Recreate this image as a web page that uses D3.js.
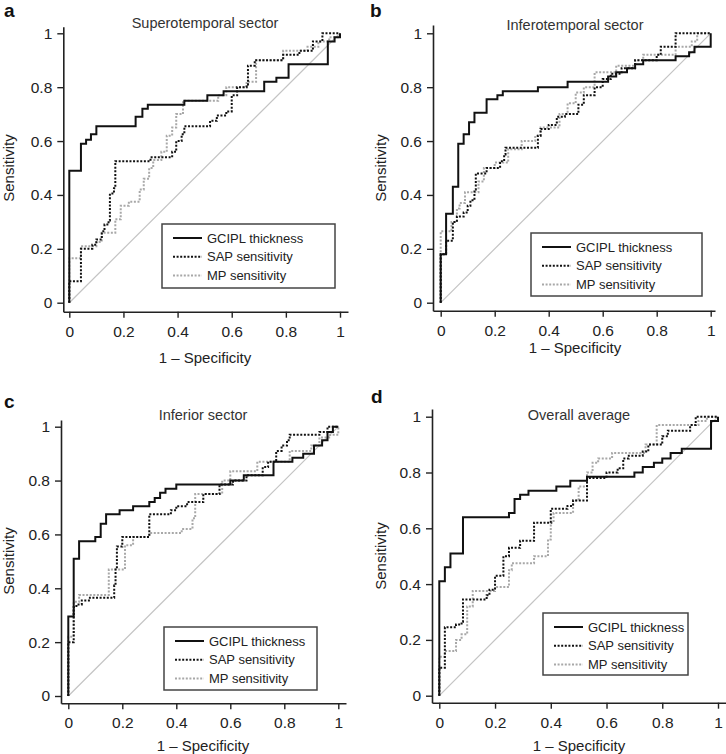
<!DOCTYPE html>
<html><head><meta charset="utf-8">
<script src="https://cdn.jsdelivr.net/npm/d3@7"></script>
<style>
html,body{margin:0;padding:0;background:#fff;}
svg{display:block;font-family:"Liberation Sans",Arial,Helvetica,sans-serif;}
</style></head>
<body>
<svg id="chart" width="726" height="754"></svg>
<script>
// ---- data ----
const panelLetters = ["a", "b", "c", "d"];
const panelTitles = ["Superotemporal sector", "Inferotemporal sector", "Inferior sector", "Overall average"];
const seriesNames = ["GCIPL thickness", "SAP sensitivity", "MP sensitivity"];
const tickValues = [0, 0.2, 0.4, 0.6, 0.8, 1];
const tickLabels = ["0", "0.2", "0.4", "0.6", "0.8", "1"];
const xLabel = "1 \u2013 Specificity";
const yLabel = "Sensitivity";

// ROC points [1 - specificity, sensitivity]
const superoGCIPL = [[0,0],[0,0.49],[0.043,0.59],[0.062,0.605],[0.08,0.625],[0.10,0.655],[0.245,0.69],[0.27,0.72],[0.29,0.735],[0.425,0.75],[0.51,0.77],[0.57,0.785],[0.72,0.82],[0.765,0.835],[0.81,0.885],[0.955,0.97],[0.98,0.985],[1,1]];
const superoSAP = [[0,0],[0,0.08],[0.043,0.2],[0.085,0.215],[0.1,0.235],[0.12,0.265],[0.13,0.29],[0.145,0.305],[0.15,0.405],[0.165,0.425],[0.17,0.525],[0.3,0.54],[0.38,0.56],[0.395,0.6],[0.415,0.625],[0.425,0.655],[0.52,0.675],[0.545,0.695],[0.58,0.71],[0.6,0.77],[0.62,0.8],[0.655,0.81],[0.66,0.88],[0.685,0.9],[0.79,0.92],[0.85,0.935],[0.9,0.97],[0.935,1],[1,1]];
const superoMP = [[0,0],[0,0.165],[0.043,0.21],[0.1,0.225],[0.12,0.26],[0.17,0.31],[0.19,0.36],[0.22,0.375],[0.26,0.42],[0.275,0.46],[0.295,0.5],[0.31,0.53],[0.34,0.56],[0.36,0.62],[0.38,0.65],[0.395,0.7],[0.42,0.75],[0.55,0.77],[0.58,0.8],[0.655,0.82],[0.69,0.9],[0.79,0.935],[0.88,0.95],[0.92,0.97],[0.96,0.985],[1,1]];

const inferoGCIPL = [[0,0],[0,0.18],[0.02,0.33],[0.045,0.43],[0.065,0.59],[0.085,0.625],[0.105,0.67],[0.125,0.705],[0.17,0.755],[0.21,0.77],[0.23,0.785],[0.36,0.8],[0.47,0.82],[0.62,0.84],[0.65,0.855],[0.69,0.87],[0.72,0.885],[0.75,0.9],[0.87,0.915],[0.92,0.93],[0.94,0.95],[1,1]];
const inferoSAP = [[0,0],[0,0.18],[0.02,0.23],[0.045,0.3],[0.06,0.32],[0.085,0.335],[0.1,0.36],[0.11,0.38],[0.125,0.42],[0.13,0.48],[0.17,0.5],[0.22,0.525],[0.235,0.55],[0.24,0.575],[0.36,0.62],[0.37,0.645],[0.4,0.66],[0.43,0.69],[0.46,0.7],[0.51,0.735],[0.53,0.77],[0.57,0.8],[0.6,0.83],[0.63,0.85],[0.67,0.87],[0.72,0.9],[0.8,0.92],[0.815,0.95],[0.87,1],[1,1]];
const inferoMP = [[0,0],[0,0.265],[0.04,0.3],[0.06,0.35],[0.07,0.37],[0.09,0.41],[0.14,0.45],[0.16,0.5],[0.2,0.52],[0.25,0.57],[0.3,0.6],[0.35,0.62],[0.37,0.65],[0.44,0.7],[0.47,0.74],[0.5,0.78],[0.53,0.8],[0.57,0.855],[0.65,0.88],[0.72,0.9],[0.75,0.92],[0.87,0.95],[0.93,0.97],[0.95,1],[1,1]];

const inferiorGCIPL = [[0,0],[0,0.295],[0.02,0.51],[0.04,0.575],[0.1,0.59],[0.12,0.64],[0.14,0.675],[0.19,0.69],[0.24,0.705],[0.3,0.72],[0.32,0.735],[0.34,0.755],[0.36,0.77],[0.4,0.785],[0.6,0.8],[0.65,0.82],[0.76,0.87],[0.83,0.885],[0.87,0.9],[0.91,0.93],[0.94,0.95],[0.96,0.98],[0.98,1],[1,1]];
const inferiorSAP = [[0,0],[0,0.2],[0.02,0.33],[0.03,0.34],[0.05,0.355],[0.08,0.365],[0.17,0.41],[0.175,0.47],[0.18,0.555],[0.2,0.59],[0.3,0.675],[0.38,0.69],[0.4,0.705],[0.44,0.72],[0.5,0.75],[0.56,0.785],[0.61,0.8],[0.66,0.82],[0.72,0.85],[0.74,0.87],[0.77,0.91],[0.79,0.93],[0.81,0.95],[0.82,0.97],[0.93,0.98],[0.96,1],[1,1]];
const inferiorMP = [[0,0],[0,0.22],[0.02,0.35],[0.04,0.375],[0.15,0.47],[0.21,0.56],[0.24,0.59],[0.3,0.605],[0.42,0.62],[0.46,0.66],[0.47,0.75],[0.57,0.8],[0.6,0.835],[0.7,0.87],[0.82,0.91],[0.9,0.93],[0.93,0.96],[0.97,0.97],[1,1]];

const overallGCIPL = [[0,0],[0,0.41],[0.02,0.46],[0.04,0.51],[0.085,0.64],[0.25,0.655],[0.27,0.705],[0.29,0.72],[0.32,0.735],[0.42,0.75],[0.47,0.77],[0.53,0.785],[0.7,0.8],[0.73,0.82],[0.77,0.835],[0.8,0.85],[0.83,0.87],[0.87,0.885],[0.975,0.985],[1,1]];
const overallSAP = [[0,0],[0,0.1],[0.02,0.245],[0.06,0.255],[0.08,0.265],[0.085,0.345],[0.17,0.36],[0.18,0.38],[0.2,0.43],[0.23,0.5],[0.25,0.53],[0.29,0.555],[0.34,0.62],[0.4,0.67],[0.46,0.68],[0.48,0.7],[0.53,0.78],[0.6,0.8],[0.64,0.815],[0.66,0.85],[0.68,0.86],[0.73,0.875],[0.75,0.9],[0.8,0.93],[0.82,0.95],[0.9,0.97],[0.92,1],[1,1]];
const overallMP = [[0,0],[0,0.14],[0.02,0.16],[0.06,0.2],[0.08,0.22],[0.1,0.32],[0.12,0.375],[0.2,0.39],[0.25,0.45],[0.26,0.475],[0.34,0.5],[0.39,0.56],[0.4,0.62],[0.41,0.655],[0.48,0.7],[0.5,0.75],[0.53,0.8],[0.55,0.835],[0.57,0.85],[0.62,0.87],[0.74,0.9],[0.78,0.97],[0.93,0.985],[0.96,1],[1,1]];

const panelSeries = [
  [superoGCIPL, superoSAP, superoMP],
  [inferoGCIPL, inferoSAP, inferoMP],
  [inferiorGCIPL, inferiorSAP, inferiorMP],
  [overallGCIPL, overallSAP, overallMP]
];

// ---- layout (pixels) ----
const layout = [
  {x0:69.3, x1:340, y0:302.7, y1:33.3, ax:63.3, ay:311.7, top:26.7, right:348,
   letter:[4,17], title:[205,28], xl:[205,363], yl:[9,168], leg:[162,224,173,64]},
  {x0:440.7, x1:710.7, y0:302.7, y1:33.3, ax:433, ay:310.7, top:25, right:715,
   letter:[370,17], title:[575,30], xl:[575,353], yl:[381,168], leg:[531,233,171,63]},
  {x0:68.3, x1:338.3, y0:696, y1:426.7, ax:61, ay:703.3, top:420, right:346,
   letter:[4,408], title:[203,420], xl:[203,751], yl:[9,561], leg:[164,627,153,63]},
  {x0:439.3, x1:718, y0:695.7, y1:416.7, ax:432, ay:702.7, top:409, right:727,
   letter:[371,403], title:[579,420], xl:[579,751], yl:[381,556], leg:[543,613,145,62]}
];

const styles = [
  {stroke:"#111", width:2, dash:null},
  {stroke:"#111", width:2, dash:"2,1.6"},
  {stroke:"#a8a8a8", width:2, dash:"2,1.6"}
];

const svg = d3.select("#chart");
const fmt = (d, i) => tickLabels[i];

layout.forEach((L, p) => {
  const x = d3.scaleLinear().domain([0, 1]).range([L.x0, L.x1]);
  const y = d3.scaleLinear().domain([0, 1]).range([L.y0, L.y1]);
  const g = svg.append("g");

  // panel letter
  g.append("text").attr("x", L.letter[0]).attr("y", L.letter[1])
    .attr("font-size", 19).attr("font-weight", "bold").attr("fill", "#111")
    .text(panelLetters[p]);

  // title
  g.append("text").attr("x", L.title[0]).attr("y", L.title[1])
    .attr("text-anchor", "middle").attr("font-size", 14.5).attr("fill", "#333")
    .text(panelTitles[p]);

  // diagonal reference
  g.append("line")
    .attr("x1", x(0)).attr("y1", y(0)).attr("x2", x(1)).attr("y2", y(1))
    .attr("stroke", "#c4c4c4").attr("stroke-width", 1.2);

  // axes (extended axis lines)
  const xExt = [x.invert(L.ax), x.invert(L.right)];
  const yExt = [y.invert(L.ay), y.invert(L.top)];
  const xa = x.copy().domain(xExt).range([L.ax, L.right]);
  const ya = y.copy().domain(yExt).range([L.ay, L.top]);

  const gx = g.append("g").attr("transform", `translate(0,${L.ay})`)
    .call(d3.axisBottom(xa).tickValues(tickValues).tickFormat(fmt).tickSizeInner(6).tickSizeOuter(0).tickPadding(8));
  const gy = g.append("g").attr("transform", `translate(${L.ax},0)`)
    .call(d3.axisLeft(ya).tickValues(tickValues).tickFormat(fmt).tickSizeInner(6).tickSizeOuter(0).tickPadding(5));
  [gx, gy].forEach(a => {
    a.select(".domain").attr("stroke", "#222").attr("stroke-width", 1.6);
    a.selectAll(".tick line").attr("stroke", "#222").attr("stroke-width", 1.4);
    a.selectAll(".tick text").attr("font-size", 15.5).attr("fill", "#222")
      .attr("font-family", "Liberation Sans, Arial, sans-serif");
  });

  // axis labels
  g.append("text").attr("x", L.xl[0]).attr("y", L.xl[1])
    .attr("text-anchor", "middle").attr("font-size", 15).attr("fill", "#222").text(xLabel);
  g.append("text").attr("transform", `translate(${L.yl[0]},${L.yl[1]}) rotate(-90)`)
    .attr("text-anchor", "middle").attr("dy", "0.35em").attr("font-size", 15).attr("fill", "#222").text(yLabel);

  // ROC curves
  const line = d3.line().x(d => x(d[0])).y(d => y(d[1])).curve(d3.curveStepAfter);
  [2, 1, 0].forEach(s => {
    const st = styles[s];
    g.append("path").datum(panelSeries[p][s])
      .attr("d", line).attr("fill", "none")
      .attr("stroke", st.stroke).attr("stroke-width", st.width)
      .attr("stroke-dasharray", st.dash);
  });

  // legend
  const [lx, ly, lw, lh] = L.leg;
  const lg = g.append("g").attr("transform", `translate(${lx},${ly})`);
  lg.append("rect").attr("x", 0).attr("y", 0).attr("width", lw).attr("height", lh)
    .attr("fill", "#fff").attr("stroke", "#444").attr("stroke-width", 1.5);
  seriesNames.forEach((name, i) => {
    const yy = 14 + i * 18.7;
    const st = styles[i];
    lg.append("line").attr("x1", 11).attr("x2", 40).attr("y1", yy).attr("y2", yy)
      .attr("stroke", st.stroke).attr("stroke-width", st.width).attr("stroke-dasharray", st.dash);
    lg.append("text").attr("x", 45).attr("y", yy).attr("dy", "0.35em")
      .attr("font-size", 13).attr("fill", "#222").text(name);
  });
});
</script>
</body></html>
